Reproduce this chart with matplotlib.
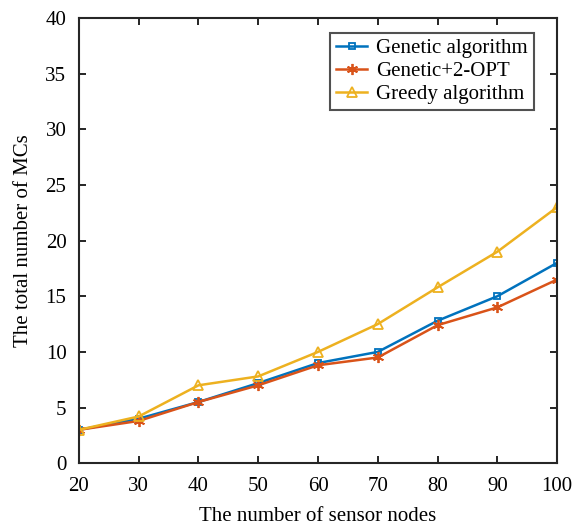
import matplotlib.pyplot as plt

plt.rcParams['font.family'] = ['Liberation Serif', 'DejaVu Serif']

nodes = [20, 30, 40, 50, 60, 70, 80, 90, 100]
genetic = [3, 4, 5.5, 7.2, 9, 10, 12.8, 15, 18]
genetic_2opt = [3, 3.8, 5.5, 7, 8.8, 9.5, 12.4, 14, 16.5]
greedy = [3, 4.2, 7, 7.8, 10, 12.5, 15.8, 19, 23]

fig = plt.figure(figsize=(5.72, 5.27), dpi=100)
ax = fig.add_axes([0.138, 0.121, 0.836, 0.845])

ax.plot(nodes, genetic, color='#0072BD', marker='s', markersize=5, markerfacecolor='none',
        markeredgewidth=1.3, linewidth=1.8, label='Genetic algorithm')
ax.plot(nodes, genetic_2opt, color='#D95319', marker=(6, 2, 0), markersize=8,
        markeredgewidth=1.3, linewidth=1.8, label='Genetic+2-OPT')
ax.plot(nodes, greedy, color='#EDB120', marker='^', markersize=7, markerfacecolor='none',
        markeredgewidth=1.3, linewidth=1.8, label='Greedy algorithm')

ax.set_xlim(20, 100)
ax.set_ylim(0, 40)
ax.set_xticks(nodes)
ax.set_yticks(range(0, 41, 5))
ax.tick_params(direction='in', top=True, right=True, labelsize=15, length=5, width=1.2)
ax.tick_params(axis='x', pad=10)
ax.tick_params(axis='y', pad=9)
for s in ax.spines.values():
    s.set_linewidth(1.5)
    s.set_color('#262626')

ax.set_xlabel('The number of sensor nodes', fontsize=15, labelpad=8)
ax.set_ylabel('The total number of MCs', fontsize=15, labelpad=9)

leg = ax.legend(loc='upper right', fontsize=15, frameon=True, fancybox=False,
                edgecolor='#262626', handlelength=1.5, handletextpad=0.4,
                borderpad=0.3, labelspacing=0.15, borderaxespad=0,
                bbox_to_anchor=(0.951, 0.967))
leg.get_frame().set_linewidth(1.5)

fig.savefig('out.png', dpi=100, facecolor='white')
